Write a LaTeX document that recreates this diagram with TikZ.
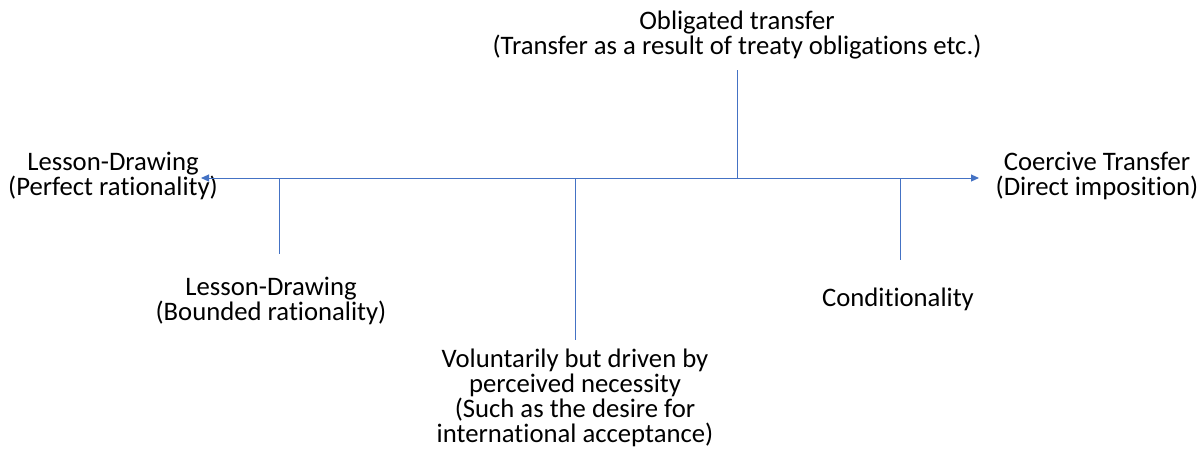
\documentclass[tikz,border=0pt]{standalone}
\usepackage{fontspec}
\setmainfont[Ligatures=NoCommon]{Carlito}
\usetikzlibrary{arrows.meta}
\definecolor{axisblue}{HTML}{4472C4}
\begin{document}
\begin{tikzpicture}[x=1pt,y=-1pt,
  lbl/.style={align=center,font=\fontsize{26.7}{25}\selectfont,text=black,inner sep=0pt},
  axisline/.style={draw=axisblue,line width=1pt},
  tip/.style={-{Triangle[length=8pt,width=7pt]}}]
  \useasboundingbox (0,0) rectangle (1202,451);

  % labels
  \node[lbl] (obl) at (737,35) {Obligated transfer\\(Transfer as a result of treaty obligations etc.)};
  \node[lbl] (perf) at (113,176) {Lesson-Drawing\\(Perfect rationality)};
  \node[lbl] (coer) at (1097,176) {Coercive Transfer\\(Direct imposition)};
  \node[lbl] (bound) at (271,301) {Lesson-Drawing\\(Bounded rationality)};
  \node[lbl] (cond) at (898,299) {Conditionality};
  \node[lbl] (vol) at (575,398) {Voluntarily but driven by\\perceived necessity\\(Such as the desire for\\international acceptance)};

  % axis end points and stems
  \coordinate (axL) at (201,178);
  \coordinate (axR) at (979,178);
  \coordinate (oblEnd) at (737,70);
  \coordinate (boundEnd) at (279,254);
  \coordinate (volEnd) at (575,340);
  \coordinate (condEnd) at (900,260);

  \draw[axisline,tip] (axR -| oblEnd) -- (axR);
  \draw[axisline,tip] (axR -| oblEnd) -- (axL);
  \draw[axisline] (axL -| oblEnd) -- (oblEnd);
  \draw[axisline] (axL -| boundEnd) -- (boundEnd);
  \draw[axisline] (axL -| volEnd) -- (volEnd);
  \draw[axisline] (axL -| condEnd) -- (condEnd);
\end{tikzpicture}
\end{document}
